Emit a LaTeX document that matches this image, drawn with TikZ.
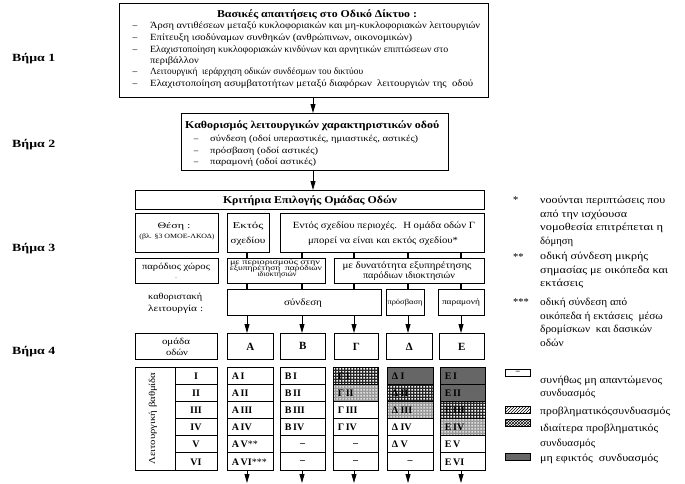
\documentclass[tikz,border=0pt]{standalone}
\usepackage{fontspec}
\setmainfont{Liberation Serif}
\usetikzlibrary{arrows.meta,patterns}
\pgfdeclarepatternformonly{wsq}{\pgfpointorigin}{\pgfpoint{3pt}{3pt}}{\pgfpoint{3pt}{3pt}}{%
  \pgfpathrectangle{\pgfpoint{0.5pt}{0.5pt}}{\pgfpoint{2pt}{2pt}}%
  \pgfusepath{fill}}
\newcommand{\fs}[2]{\fontsize{#1}{#2}\selectfont}
\newcommand{\sw}[2]{\resizebox{#1pt}{\height}{#2}}
\newcommand{\sx}[2]{\scalebox{#1}[1]{#2}}
\newcommand{\mkbox}[6][]{\node[bx,#1,anchor=north west,minimum width={(#4-#2)*1pt},minimum height={(#5-#3)*1pt}] (#6) at (#2,#3) {};}
\newcommand{\cell}[5][]{\node[bx,#1,minimum width={(#4-#3)*1pt},minimum height=17.1667pt] (#2) at ({(#3+#4)/2},{367+(#5-0.5)*17.1667}) {};}
\newcommand{\ctl}[2]{\node[cellfont,inner sep=0pt,anchor=west] (#1t) at ([xshift=5pt,yshift=-0.5pt]#1.west) {#2};}
\newcommand{\ctc}[2]{\node[cellfont,inner sep=0pt] (#1t) at ([yshift=-0.5pt]#1.center) {#2};}
\begin{document}
\begin{tikzpicture}[x=1pt,y=-1pt,
  bx/.style={draw,line width=0.8pt,inner sep=0pt},
  arr/.style={line width=0.8pt,-{Triangle[length=9pt,width=5pt]}},
  tick/.style={line width=1.3pt},
  tx/.style={inner sep=0pt,anchor=base west},
  tc/.style={inner sep=0pt,anchor=base},
  cellfont/.style={font=\bfseries\fs{10}{11}},
  dchk/.style={preaction={fill=black!85},pattern=wsq,pattern color=white},
  lchk/.style={preaction={fill=black!40},pattern=wsq,pattern color=black!12},
  dark/.style={fill=black!60}]
\useasboundingbox (0,0) rectangle (685,483);
% step labels
\node[tx,font=\bfseries\fs{11}{13}] (s1) at (12,61) {\sw{43}{Βήμα 1}};
\node[tx,font=\bfseries\fs{11}{13}] (s2) at (12,147) {\sw{43}{Βήμα 2}};
\node[tx,font=\bfseries\fs{11}{13}] (s3) at (12,251) {\sw{43}{Βήμα 3}};
\node[tx,font=\bfseries\fs{11}{13}] (s4) at (12,354) {\sw{43}{Βήμα 4}};
% box 1
\mkbox{119}{3}{488}{97}{b1}
\node[tc,font=\bfseries\fs{10.5}{12}] (b1t) at (317,17.5) {\sw{200}{Βασικές απαιτήσεις στο Οδικό Δίκτυο :}};
\begin{scope}[every node/.style={font=\fs{9.5}{12}}]
\node[tc] (b1d1) at (135,28.5) {–};
\node[tx] (b1i1) at (150,28.5) {\sw{330}{Άρση αντιθέσεων μεταξύ κυκλοφοριακών και μη-κυκλοφοριακών λειτουργιών}};
\node[tc] (b1d2) at (135,40.5) {–};
\node[tx] (b1i2) at (150,40.5) {\sw{262}{Επίτευξη ισοδύναμων συνθηκών (ανθρώπινων, οικονομικών)}};
\node[tc] (b1d3) at (135,52.5) {–};
\node[tx] (b1i3) at (150,52.5) {\sw{298}{Ελαχιστοποίηση κυκλοφοριακών κινδύνων και αρνητικών επιπτώσεων στο}};
\node[tx] (b1i3b) at (150,63) {\sx{1.1}{περιβάλλον}};
\node[tc] (b1d4) at (135,74.5) {–};
\node[tx] (b1i4) at (150,74.5) {\sw{213}{Λειτουργική \ ιεράρχηση οδικών συνδέσμων του δικτύου}};
\node[tc] (b1d5) at (135,86.5) {–};
\node[tx] (b1i5) at (150,86.5) {\sw{323}{Ελαχιστοποίηση ασυμβατοτήτων μεταξύ διαφόρων \ λειτουργιών της \ οδού}};
\end{scope}
% box 2
\mkbox{181}{113}{448}{170}{b2}
\node[tx,font=\bfseries\fs{10.5}{12}] (b2t) at (185,128) {\sw{254}{Καθορισμός λειτουργικών χαρακτηριστικών οδού}};
\begin{scope}[every node/.style={font=\fs{9}{11}}]
\node[tc] (b2d1) at (196,141.5) {–};
\node[tx] (b2i1) at (210,141.5) {\sw{208}{σύνδεση (οδοί υπεραστικές, ημιαστικές, αστικές)}};
\node[tc] (b2d2) at (196,153.5) {–};
\node[tx] (b2i2) at (210,153.5) {\sw{108}{πρόσβαση (οδοί αστικές)}};
\node[tc] (b2d3) at (196,164.5) {–};
\node[tx] (b2i3) at (210,164.5) {\sw{106}{παραμονή (οδοί αστικές)}};
\end{scope}
% criteria
\mkbox{135}{190}{484}{209}{kr}
\node[tc,font=\bfseries\fs{10.5}{12}] (krt) at (310,203) {\sw{174}{Κριτήρια Επιλογής Ομάδας Οδών}};
% row: location
\mkbox{135}{213}{218}{252}{the}
\node[tc,font=\fs{8.5}{10}] (thet) at (174,228) {\sw{33}{Θέση :}};
\node[tc,font=\fs{6.5}{8}] (thes) at (177,238.5) {\sw{75}{(βλ. §3 ΟΜΟΕ-ΛΚΟΔ)}};
\mkbox{227}{213}{269}{252}{ekt}
\node[tc,font=\fs{9}{11}] (ekt1) at (248,228) {\sw{31}{Εκτός}};
\node[tc,font=\fs{9}{11}] (ekt2) at (248,243) {\sw{35}{σχεδίου}};
\mkbox{280}{213}{484}{252}{ent}
\node[tc,font=\fs{9.5}{11}] (ent1) at (384,228) {\sw{182}{Εντός σχεδίου περιοχές. \ Η ομάδα οδών Γ}};
\node[tc,font=\fs{9.5}{11}] (ent2) at (383,243) {\sw{150}{μπορεί να είναι και εκτός σχεδίου*}};
% row: roadside
\mkbox{135}{258}{218}{283}{par0}
\node[tc,font=\fs{9}{11}] (par0t) at (176,269) {\sw{68}{παρόδιος χώρος}};
\node[tc,font=\fs{6}{7}] (par0d) at (176,278) {.};
\mkbox{227}{258}{325}{283}{per}
\node[tc,font=\fs{7.5}{9}] (per1) at (275,264) {\sw{90}{με περιορισμούς στην}};
\node[tc,font=\fs{7.5}{9}] (per2) at (276,270) {\sw{92}{εξυπηρέτηση \ παρόδιων}};
\node[tc,font=\fs{7.5}{9}] (per3) at (277,276) {\sw{39}{ιδιοκτησιών}};
\mkbox{334}{258}{484}{283}{dyn}
\node[tc,font=\fs{9.5}{11}] (dyn1) at (407,268) {\sw{129}{με δυνατότητα εξυπηρέτησης}};
\node[tc,font=\fs{9.5}{11}] (dyn2) at (409,278.5) {\sw{92}{παρόδιων ιδιοκτησιών}};
% row: function
\node[tx,font=\fs{9}{11}] (kat1) at (148,299) {\sw{54}{καθοριστακή}};
\node[tx,font=\fs{9}{11}] (kat2) at (148,311) {\sw{55}{λειτουργία :}};
\mkbox{227}{289}{381}{315}{syn}
\node[tc,font=\fs{9.5}{11}] (synt) at (303,305) {\sw{38}{σύνδεση}};
\mkbox{386}{289}{424}{315}{pro}
\node[tc,font=\fs{7.5}{9}] (prot) at (405,304.5) {\sw{35}{πρόσβαση}};
\mkbox{438}{289}{484}{315}{pam}
\node[tc,font=\fs{8}{9}] (pamt) at (461,304.5) {\sw{38}{παραμονή}};
% row: groups
\mkbox{135}{333}{217}{359}{om}
\node[tc,font=\fs{9}{11}] (om1) at (176,344) {\sw{28}{ομάδα}};
\node[tc,font=\fs{9}{11}] (om2) at (177,355) {\sw{22}{οδών}};
\mkbox{227}{333}{273}{359}{gA}
\node[font=\bfseries\fs{11}{13},inner sep=0pt] (gAt) at (gA.center) {A};
\mkbox{280}{333}{325}{359}{gB}
\node[font=\bfseries\fs{11}{13},inner sep=0pt] (gBt) at (gB.center) {B};
\mkbox{334}{333}{378}{359}{gG}
\node[font=\bfseries\fs{11}{13},inner sep=0pt] (gGt) at (gG.center) {Γ};
\mkbox{386}{333}{432}{359}{gD}
\node[font=\bfseries\fs{11}{13},inner sep=0pt] (gDt) at (gD.center) {Δ};
\mkbox{439}{333}{484}{359}{gE}
\node[font=\bfseries\fs{11}{13},inner sep=0pt] (gEt) at (gE.center) {E};
% table left
\mkbox{135}{367}{175}{470}{lb}
\node[rotate=90,font=\fs{9}{11},inner sep=0pt] (lbt) at (153,418.5) {\sw{92}{Λειτουργική βαθμίδα}};
\cell{n1}{175}{217}{1}\ctc{n1}{I}
\cell{n2}{175}{217}{2}\ctc{n2}{II}
\cell{n3}{175}{217}{3}\ctc{n3}{III}
\cell{n4}{175}{217}{4}\ctc{n4}{IV}
\cell{n5}{175}{217}{5}\ctc{n5}{V}
\cell{n6}{175}{217}{6}\ctc{n6}{VI}
% column A
\cell{a1}{227}{273}{1}\ctl{a1}{A\,I}
\cell{a2}{227}{273}{2}\ctl{a2}{A\,II}
\cell{a3}{227}{273}{3}\ctl{a3}{A\,III}
\cell{a4}{227}{273}{4}\ctl{a4}{A\,IV}
\cell{a5}{227}{273}{5}\ctl{a5}{A\,V{\mdseries**}}
\cell{a6}{227}{273}{6}\ctl{a6}{A\,VI{\mdseries***}}
% column B
\cell{b1c}{280}{325}{1}\ctl{b1c}{B\,I}
\cell{b2c}{280}{325}{2}\ctl{b2c}{B\,II}
\cell{b3c}{280}{325}{3}\ctl{b3c}{B\,III}
\cell{b4c}{280}{325}{4}\ctl{b4c}{B\,IV}
\cell{b5c}{280}{325}{5}\ctc{b5c}{–}
\cell{b6c}{280}{325}{6}\ctc{b6c}{–}
% column G
\cell[dchk]{g1}{333}{378}{1}\ctl{g1}{Γ\,I}
\cell[lchk]{g2}{333}{378}{2}\ctl{g2}{Γ\,II}
\cell{g3}{333}{378}{3}\ctl{g3}{Γ\,III}
\cell{g4}{333}{378}{4}\ctl{g4}{Γ\,IV}
\cell{g5}{333}{378}{5}\ctc{g5}{–}
\cell{g6}{333}{378}{6}\ctc{g6}{–}
% column D
\cell[dark]{d1}{387}{433}{1}\ctl{d1}{Δ\ I}
\cell[dchk]{d2}{387}{433}{2}\ctl{d2}{Δ\ II}
\cell[lchk]{d3}{387}{433}{3}\ctl{d3}{Δ\ III}
\cell{d4}{387}{433}{4}\ctl{d4}{Δ\ IV}
\cell{d5}{387}{433}{5}\ctl{d5}{Δ\ V}
\cell{d6}{387}{433}{6}\ctc{d6}{–}
% column E
\cell[dark]{e1}{440}{485}{1}\ctl{e1}{E\,I}
\cell[dark]{e2}{440}{485}{2}\ctl{e2}{E\,II}
\cell[dchk]{e3}{440}{485}{3}\ctl{e3}{E\,III}
\cell[lchk]{e4}{440}{485}{4}\ctl{e4}{E\,IV}
\cell{e5}{440}{485}{5}\ctl{e5}{E\,V}
\cell{e6}{440}{485}{6}\ctl{e6}{E\,VI}
% connectors
\coordinate (xm) at (313,0);
\coordinate (xA) at (247,0);
\coordinate (xB) at (302,0);
\coordinate (xG) at (354,0);
\coordinate (xD) at (408,0);
\coordinate (xE) at (461,0);
\coordinate (bot) at (0,483);
\draw[arr] (xm |- b1.south) -- (xm |- b2.north);
\draw[arr] (xm |- b2.south) -- (xm |- kr.north);
\draw[tick] (xA |- ekt.south) -- (xA |- per.north);
\draw[tick] (xB |- ent.south) -- (xB |- per.north);
\draw[tick] (xG |- ent.south) -- (xG |- dyn.north);
\draw[tick] (xD |- ent.south) -- (xD |- dyn.north);
\draw[tick] (xE |- ent.south) -- (xE |- dyn.north);
\draw[tick] (xA |- per.south) -- (xA |- syn.north);
\draw[tick] (xB |- per.south) -- (xB |- syn.north);
\draw[tick] (xG |- dyn.south) -- (xG |- syn.north);
\draw[tick] (xD |- dyn.south) -- (xD |- pro.north);
\draw[tick] (xE |- dyn.south) -- (xE |- pam.north);
\draw[arr] (xA |- syn.south) -- (xA |- gA.north);
\draw[arr] (xB |- syn.south) -- (xB |- gB.north);
\draw[arr] (xG |- syn.south) -- (xG |- gG.north);
\draw[arr] (xD |- pro.south) -- (xD |- gD.north);
\draw[arr] (xE |- pam.south) -- (xE |- gE.north);
\draw[arr] (xA |- a6.south) -- (xA |- bot);
\draw[arr] (xB |- b6c.south) -- (xB |- bot);
\draw[arr] (xG |- g6.south) -- (xG |- bot);
\draw[arr] (xD |- d6.south) -- (xD |- bot);
\draw[arr] (xE |- e6.south) -- (xE |- bot);
% notes
\begin{scope}[every node/.style={font=\fs{10.5}{13}}]
\node[tx] (n1s) at (513,203) {*};
\node[tx] (n1a) at (540,203.5) {\sw{125}{νοούνται περιπτώσεις που}};
\node[tx] (n1b) at (540,217) {\sw{87}{από την ισχύουσα}};
\node[tx] (n1c) at (540,230.5) {\sw{123}{νομοθεσία επιτρέπεται η}};
\node[tx] (n1d) at (540,244) {\sw{33}{δόμηση}};
\node[tx] (n2s) at (513,260) {**};
\node[tx] (n2a) at (540,259.5) {\sw{108}{οδική σύνδεση μικρής}};
\node[tx] (n2b) at (540,273) {\sw{128}{σημασίας με οικόπεδα και}};
\node[tx] (n2c) at (540,286.5) {\sw{43}{εκτάσεις}};
\node[tx] (n3s) at (513,305.5) {***};
\node[tx] (n3a) at (540,305.5) {\sw{87}{οδική σύνδεση από}};
\node[tx] (n3b) at (540,319) {\sx{1.08}{οικόπεδα ή εκτάσεις \ μέσω}};
\node[tx] (n3c) at (540,332.5) {\sx{1.08}{δρομίσκων \ και δασικών}};
\node[tx] (n3d) at (540,346) {\sx{1.08}{οδών}};
% legend
\node[tx] (l1a) at (540,383.5) {\sw{122}{συνήθως μη απαντώμενος}};
\node[tx] (l1b) at (540,396.5) {\sw{55}{συνδυασμός}};
\node[tx] (l2a) at (540,414.5) {\sw{130}{προβληματικόςσυνδυασμός}};
\node[tx] (l3a) at (540,431.5) {\sw{118}{ιδιαίτερα προβληματικός}};
\node[tx] (l3b) at (540,446.5) {\sw{55}{συνδυασμός}};
\node[tx] (l4a) at (540,461.5) {\sw{118}{μη εφικτός \ συνδυασμός}};
\end{scope}
\mkbox{505}{369}{530}{376}{lg1}
\node[font=\bfseries\fs{8}{9},inner sep=0pt] (lg1t) at (lg1.center) {–};
\mkbox[pattern=north east lines]{505}{406}{530}{413}{lg2}
\mkbox[pattern=crosshatch]{505}{419}{530}{426}{lg3}
\mkbox[dark]{505}{453}{530}{460}{lg4}
\end{tikzpicture}
\end{document}
